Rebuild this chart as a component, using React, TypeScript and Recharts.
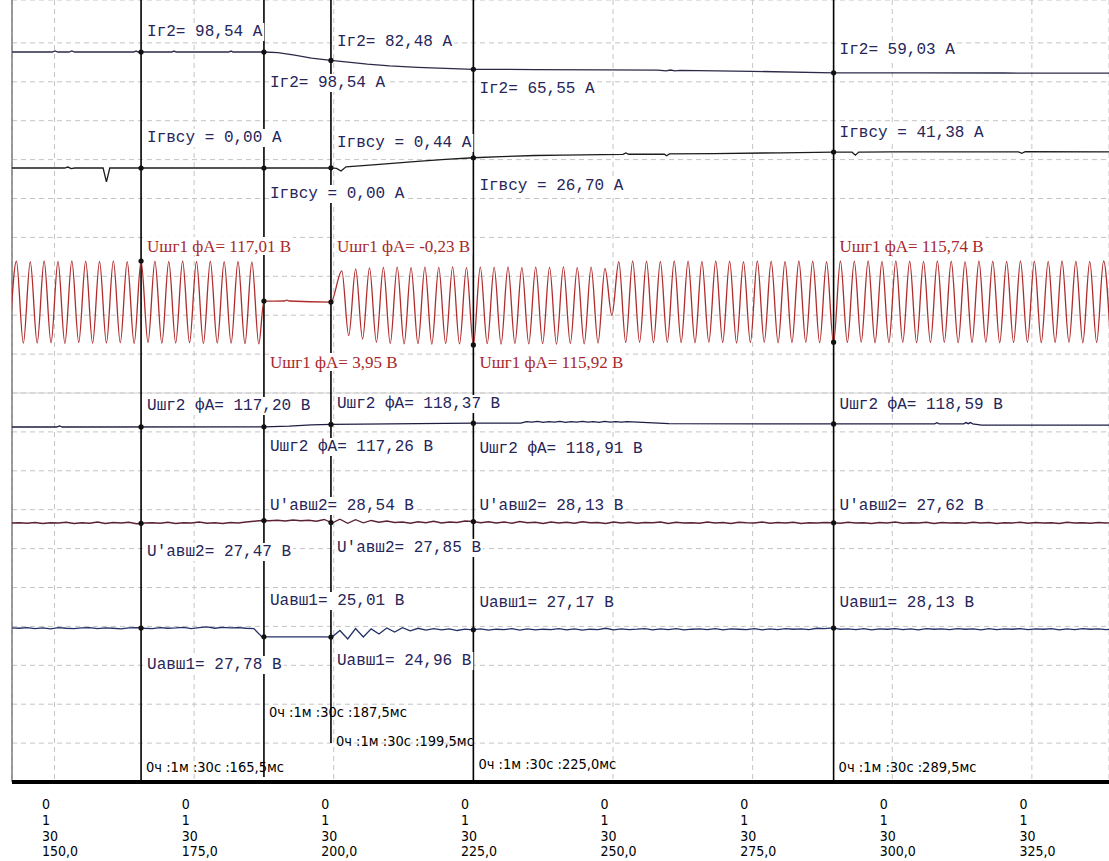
import React from "react";
import { ComposedChart, Line, XAxis, YAxis, CartesianGrid, ReferenceLine, ReferenceDot } from "recharts";

// record time: 0 h 1 min 30 s + milliseconds on the axis
const HOURS = 0;
const MINUTES = 1;
const SECONDS = 30;
const TICK_MS = [150, 175, 200, 225, 250, 275, 300, 325];
const CURSOR_MS = [165.5, 187.5, 199.5, 225.0, 289.5];

// readings printed next to each cursor
const IR2_READ = [98.54, 98.54, 82.48, 65.55, 59.03];
const IRVSU_READ = [0.0, 0.0, 0.44, 26.7, 41.38];
const USHG1_READ = [117.01, 3.95, -0.23, 115.92, 115.74];
const USHG2_READ = [117.2, 117.26, 118.37, 118.91, 118.59];
const UAVSH2P_READ = [27.47, 28.54, 27.85, 28.13, 27.62];
const UAVSH1_READ = [27.78, 25.01, 24.96, 27.17, 28.13];

// Iг2, A
const IR2_T = [142.3, 149.6, 150.1, 150.6, 152.6, 153.1, 153.6, 164.2, 164.6, 165.0, 171.0, 171.4, 171.8, 181.2, 181.6, 182.0, 187.5, 190, 193, 196, 199.5, 203, 206, 210, 215, 220, 225, 236, 248, 258, 259.5, 260.3, 261.1, 262.0, 275, 289.5, 305, 320, 339.5];
const IR2_V = [98.54, 98.54, 100.5, 98.54, 98.54, 100.5, 98.54, 98.54, 100.3, 98.54, 98.54, 100.3, 98.54, 98.54, 100.3, 98.54, 98.54, 97.3, 92.8, 87.0, 82.48, 79.0, 75.5, 72.3, 69.5, 67.3, 65.55, 65.2, 64.6, 64.0, 62.5, 64.3, 62.6, 63.8, 61.8, 59.03, 58.9, 58.6, 58.5];

// Iгвсу, A
const IRVSU_T = [142.3, 151.8, 152.4, 153.0, 153.6, 158.7, 159.3, 159.9, 187.5, 199.5, 200.5, 201.3, 202.2, 204, 207, 211, 215, 220, 225, 230, 236, 241, 248, 251.8, 252.3, 252.8, 259.2, 259.6, 260.1, 268, 280, 289.5, 292.8, 293.4, 294.0, 300, 312, 322.6, 323.2, 323.8, 339.5];
const IRVSU_V = [0, 0, 2.5, -1.5, 0, 0, -36, 0, 0, 0.44, -1, -8, 3, 5, 8, 12.5, 17, 22.5, 26.7, 29.5, 32.5, 33.5, 35, 35.5, 39, 35.8, 36, 32, 36.5, 37.5, 39.5, 41.38, 41.2, 33.5, 41.5, 42, 42, 42, 38, 42.2, 42];

// Uшг1 фА, V instantaneous, one sample per half period
const USHG1_HALF = 1.24;
const USHG1_A_START = 141.94;
const USHG1_A = [-166, 167, -169, 165, -168, 168, -167, 166, -170, 168, -166, 167, -169, 166, -168, 169, -167, 165, -170, 168, -166, 167, -169, 166, -168, 168, -167, 166, -170, 167, -168, 165, -169, 166, -171, 164, -172];
const USHG1_GAP_T = [187.5, 191.2, 191.6, 192.0, 199.5];
const USHG1_GAP_V = [3.95, 4, 8, 4, -0.23];
const USHG1_B_START = 201.44;
const USHG1_B = [128, -138, 136, -152, 140, -165, 142, -170, 143, -172, 141, -171, 143, -173, 142, -170, 144, -172, 141, -176, 143, -171, 142, -173, 144, -170, 141, -172, 143, -171, 142, -173, 144, -170, 141, -172, 143, -168, 138, -55, 165, -166, 168, -165, 167, -167, 166, -165, 168, -166, 167, -167, 166, -165, 168, -166, 167, -168, 165, -166, 168, -165, 167, -167, 166, -166, 168, -165, 167, -167, 165, -170, 168, -166, 167, -165, 168, -167, 166, -166, 168, -165, 167, -167, 166, -166, 168, -165, 167, -167, 165, -166, 168, -165, 167, -167, 166, -166, 168, -165, 167, -167, 166, -166, 168, -165, 167, -167, 166, -166, 168, -165];

// Uшг2 фА, V
const USHG2_T = [142.3, 150.4, 150.9, 151.4, 187.5, 192, 196, 199.5, 205, 215, 225, 233.5, 234.5, 235.5, 236.5, 237.5, 238.5, 239.5, 240.5, 241.5, 242.5, 243.5, 244.5, 245.5, 246.5, 247.5, 248.5, 249.5, 250.5, 251.5, 252.5, 260, 289.5, 307.6, 308.0, 308.4, 312.8, 313.2, 313.6, 314.0, 314.4, 316, 339.5];
const USHG2_V = [117.2, 117.2, 117.7, 117.2, 117.26, 117.6, 118.2, 118.37, 118.5, 118.7, 118.91, 118.9, 119.6, 119.4, 119.7, 119.3, 119.6, 119.4, 119.7, 119.3, 119.6, 119.4, 119.7, 119.4, 119.6, 119.3, 119.7, 119.4, 119.6, 119.4, 119.6, 118.7, 118.59, 118.6, 119.1, 118.6, 118.6, 119.2, 118.7, 119.2, 118.6, 118.0, 118.0];

// U'авш2 and Uавш1, V, sampled every 1.4 ms
const DC_START = 142.3;
const DC_STEP = 1.4;
const UAVSH2P = [
  27.5, 27.6, 27.4, 27.7, 27.3, 27.6, 27.5, 27.8, 27.3, 27.6,
  27.4, 27.9, 27.3, 27.7, 27.5, 27.8, 27.2, 27.5, 27.6, 27.4,
  27.8, 27.3, 27.6, 27.5, 27.9, 27.4, 27.6, 27.3, 27.7, 27.5,
  27.9, 28.2, 28.5, 28.4, 28.6, 28.3, 28.7, 28.4, 28.6, 28.2,
  28.9, 27.5, 29.0, 27.4, 28.8, 27.6, 28.5, 27.8, 28.3, 27.7,
  27.9, 27.4, 28.0, 27.6, 28.2, 27.5, 27.9, 27.7, 28.3, 28.1,
  27.6, 28.0, 27.5, 27.9, 27.4, 28.1, 27.6, 27.8, 27.3, 27.9,
  27.5, 27.8, 27.4, 28.0, 27.6, 27.7, 27.3, 27.9, 27.5, 27.8,
  27.4, 27.7, 27.6, 27.9, 27.3, 27.8, 27.5, 27.6, 27.4, 27.9,
  27.5, 27.7, 27.3, 27.8, 27.6, 27.5, 27.9, 27.4, 27.7, 27.5,
  27.8, 27.3, 27.6, 27.5, 27.7, 27.6, 27.4, 27.8, 27.5, 27.6,
  27.3, 27.7, 27.5, 27.9, 27.4, 27.6, 27.5, 27.8, 27.3, 27.7,
  27.5, 27.6, 27.4, 27.8, 27.5, 27.7, 27.3, 27.6, 27.5, 27.8,
  27.4, 27.7, 27.5, 27.6, 27.3, 27.8, 27.5, 27.6, 27.4, 27.7,
  27.5, 27.6,
];
const UAVSH1 = [
  27.8, 27.7, 27.9, 27.6, 27.8, 27.5, 27.9, 27.7, 27.6, 27.8,
  27.9, 27.6, 27.8, 27.7, 27.5, 27.8, 27.9, 27.7, 27.6, 27.9,
  27.7, 27.8, 28.0, 27.6, 27.9, 28.1, 27.7, 28.0, 27.8, 27.9,
  27.7, 27.6, 25.1, 25.0, 25.0, 25.0, 25.0, 25.0, 25.0, 25.0,
  25.0, 24.96, 27.0, 24.4, 27.6, 25.0, 27.5, 25.9, 27.8, 26.5,
  27.9, 26.9, 27.7, 27.1, 27.6, 27.2, 27.5, 27.0, 27.4, 27.2,
  27.5, 27.1, 27.4, 27.3, 27.6, 27.1, 27.5, 27.2, 27.4, 27.3,
  27.6, 27.2, 27.5, 27.1, 27.4, 27.3, 27.7, 27.2, 27.5, 27.3,
  27.4, 27.6, 27.2, 27.5, 27.3, 27.6, 27.2, 27.4, 27.5, 27.3,
  27.6, 27.2, 27.5, 27.4, 27.3, 27.6, 27.2, 27.5, 27.3, 27.6,
  27.4, 27.5, 27.3, 27.7, 27.6, 27.8, 27.4, 27.5, 27.3, 27.6,
  27.2, 27.5, 27.4, 27.6, 27.3, 27.5, 27.2, 27.6, 27.4, 27.5,
  27.3, 27.6, 27.4, 27.5, 27.2, 27.6, 27.3, 27.5, 27.4, 27.6,
  27.3, 27.5, 27.4, 27.6, 27.2, 27.5, 27.3, 27.6, 27.4, 27.5,
  27.3, 27.4,
];

// ---- layout ----
const W = 1109;
const H = 861;
const PLOT_LEFT = 12;
const PLOT_TOP = 0;
const PLOT_BOTTOM = 782;
const PX_PER_MS = 5.585;
const TICK0_PX = 54.5;
const X_MIN = TICK_MS[0] - (TICK0_PX - PLOT_LEFT) / PX_PER_MS;
const X_MAX = X_MIN + (W - PLOT_LEFT) / PX_PER_MS;
const GRID_PX = 38.9;
const GRID_MAX = (PLOT_BOTTOM - PLOT_TOP) / GRID_PX;
const GRID_ROWS = Array.from({ length: 19 }, (_, i) => i + 1);
const CURSOR_END_PX = [PLOT_BOTTOM, 777, 743, PLOT_BOTTOM, PLOT_BOTTOM];
const TIME_ROW = [767, 712, 741, 764, 767];

const MONO = "'Liberation Mono', 'Courier New', monospace";
const SERIF = "'Liberation Serif', 'Times New Roman', serif";
const NARROW = "'Liberation Sans Narrow', 'Arial Narrow', 'DejaVu Sans Condensed', sans-serif";
const BLUE_TEXT = "#26265a";
const RED_TEXT = "#a8282c";

// hidden axis domain so value v0 sits at pixel row p0 with perPx units per pixel
const span = (v0: number, p0: number, perPx: number) => [
  v0 - (PLOT_BOTTOM - p0) * perPx,
  v0 + (p0 - PLOT_TOP) * perPx,
];

const pairs = (ts: number[], vs: number[]) => ts.map((t, i) => ({ t, v: vs[i] }));
const sampled = (start: number, step: number, vs: number[]) =>
  vs.map((v, i) => ({ t: +(start + i * step).toFixed(3), v }));

const fmt2 = (v: number) => v.toFixed(2).replace(".", ",");
const fmt1 = (v: number) => v.toFixed(1).replace(".", ",");

type Pt = { t: number; v: number };
function valueAt(data: Pt[], t: number) {
  for (let i = 1; i < data.length; i++) {
    const a = data[i - 1];
    const b = data[i];
    if (t >= a.t && t <= b.t) {
      if (b.t === a.t) return b.v;
      return a.v + ((b.v - a.v) * (t - a.t)) / (b.t - a.t);
    }
  }
  return data[data.length - 1].v;
}

let ctx: CanvasRenderingContext2D | null = null;
function textWidth(s: string, font: string) {
  if (!ctx) ctx = document.createElement("canvas").getContext("2d");
  if (!ctx) return s.length * 9.6;
  ctx.font = font;
  return ctx.measureText(s).width;
}

const TRACES = [
  {
    id: "ir2", data: pairs(IR2_T, IR2_V), read: IR2_READ, color: "#2a2a48", curve: "linear",
    label: (v: number) => `Iг2= ${fmt2(v)} А`, textColor: BLUE_TEXT, family: MONO, size: 16,
    rows: [32, 83, 42, 89, 50], domain: span(98.54, 52, 1.9),
  },
  {
    id: "irvsu", data: pairs(IRVSU_T, IRVSU_V), read: IRVSU_READ, color: "#1c1c1c", curve: "linear",
    label: (v: number) => `Iгвсу = ${fmt2(v)} А`, textColor: BLUE_TEXT, family: MONO, size: 16,
    rows: [138, 194, 143, 186, 133], domain: span(0, 168, 2.6),
  },
  {
    id: "ushg1",
    data: [...sampled(USHG1_A_START, USHG1_HALF, USHG1_A), ...pairs(USHG1_GAP_T, USHG1_GAP_V), ...sampled(USHG1_B_START, USHG1_HALF, USHG1_B)],
    read: USHG1_READ, color: "#b02c2c", curve: "monotone",
    label: (v: number) => `Uшг1 фА= ${fmt2(v)} В`, textColor: RED_TEXT, family: SERIF, size: 17,
    rows: [246, 362, 246, 362, 246], domain: span(0, 302, 4.1),
  },
  {
    id: "ushg2", data: pairs(USHG2_T, USHG2_V), read: USHG2_READ, color: "#1e1e44", curve: "linear",
    label: (v: number) => `Uшг2 фА= ${fmt2(v)} В`, textColor: BLUE_TEXT, family: MONO, size: 16,
    rows: [406, 447, 404, 449, 405], domain: span(117.2, 427, 0.45),
  },
  {
    id: "uavsh2p", data: sampled(DC_START, DC_STEP, UAVSH2P), read: UAVSH2P_READ, color: "#5a2232", curve: "linear",
    label: (v: number) => `U'авш2= ${fmt2(v)} В`, textColor: BLUE_TEXT, family: MONO, size: 16,
    rows: [552, 506, 548, 506, 506], domain: span(27.5, 523, 0.4),
  },
  {
    id: "uavsh1", data: sampled(DC_START, DC_STEP, UAVSH1), read: UAVSH1_READ, color: "#243068", curve: "linear",
    label: (v: number) => `Uавш1= ${fmt2(v)} В`, textColor: BLUE_TEXT, family: MONO, size: 16,
    rows: [665, 601, 661, 603, 603], domain: span(27.78, 628, 0.31),
  },
];

function CursorLabel({ cx, row, text, color, family, size }: any) {
  const w = textWidth(text, `${size}px ${family}`);
  return (
    <g>
      <rect x={cx + 5} y={row - 9} width={w + 3} height={18} fill="#fff" />
      <text x={cx + 6} y={row} dominantBaseline="central" fontFamily={family} fontSize={size} fill={color}>
        {text}
      </text>
    </g>
  );
}

function TimeTick({ x, payload }: any) {
  const lines = [String(HOURS), String(MINUTES), String(SECONDS), fmt1(payload.value)];
  return (
    <text fontFamily={NARROW} fontSize={14} fill="#000">
      {lines.map((s, i) => (
        <tspan key={i} x={x - 12.5} y={PLOT_BOTTOM + 27 + i * 15.8}>
          {s}
        </tspan>
      ))}
    </text>
  );
}

export default function App() {
  return (
    <div style={{ position: "absolute", left: 0, top: 0, width: W, height: H, background: "#fff" }}>
      <ComposedChart width={W} height={H} margin={{ top: PLOT_TOP, right: 0, bottom: 0, left: PLOT_LEFT }}>
        <CartesianGrid stroke="#c4c4c4" strokeDasharray="5 4" />
        <XAxis
          type="number"
          dataKey="t"
          domain={[X_MIN, X_MAX]}
          allowDataOverflow
          ticks={TICK_MS}
          interval={0}
          tick={(p: any) => <TimeTick {...p} />}
          tickLine={false}
          axisLine={{ stroke: "#000", strokeWidth: 4 }}
          height={H - PLOT_BOTTOM}
        />
        <YAxis hide type="number" domain={[0, GRID_MAX]} ticks={GRID_ROWS} allowDataOverflow />
        {TRACES.map((tr) => (
          <YAxis key={tr.id} yAxisId={tr.id} hide type="number" domain={tr.domain} allowDataOverflow />
        ))}

        <ReferenceLine y={10} stroke="#cfcfcf" />
        <ReferenceLine x={X_MIN} stroke="#7d7d7d" strokeWidth={1.5} ifOverflow="visible" />

        {CURSOR_MS.map((t, i) => (
          <ReferenceLine
            key={`cur-${i}`}
            segment={[
              { x: t, y: (PLOT_BOTTOM - CURSOR_END_PX[i]) / GRID_PX },
              { x: t, y: GRID_MAX },
            ]}
            stroke="#000"
            strokeWidth={1.6}
            ifOverflow="visible"
          />
        ))}

        {TRACES.map((tr) => (
          <Line
            key={tr.id}
            yAxisId={tr.id}
            data={tr.data}
            dataKey="v"
            type={tr.curve as any}
            stroke={tr.color}
            strokeWidth={1.3}
            dot={false}
            activeDot={false}
            isAnimationActive={false}
          />
        ))}

        {TRACES.flatMap((tr) =>
          CURSOR_MS.map((t, ci) => (
            <ReferenceDot
              key={`dot-${tr.id}-${ci}`}
              yAxisId={tr.id}
              x={t}
              y={valueAt(tr.data, t)}
              r={2.6}
              fill="#111"
              stroke="none"
            />
          ))
        )}

        {TRACES.flatMap((tr) =>
          CURSOR_MS.map((t, ci) => (
            <ReferenceDot
              key={`lab-${tr.id}-${ci}`}
              x={t}
              y={1}
              r={0}
              ifOverflow="visible"
              shape={(p: any) => (
                <CursorLabel
                  cx={p.cx}
                  row={tr.rows[ci]}
                  text={tr.label(tr.read[ci])}
                  color={tr.textColor}
                  family={tr.family}
                  size={tr.size}
                />
              )}
            />
          ))
        )}

        {CURSOR_MS.map((t, ci) => (
          <ReferenceDot
            key={`time-${ci}`}
            x={t}
            y={1}
            r={0}
            ifOverflow="visible"
            shape={(p: any) => (
              <text x={p.cx + 5} y={TIME_ROW[ci]} dominantBaseline="central" fontFamily={NARROW} fontSize={14.5} fill="#000">
                {`${HOURS}ч :${MINUTES}м :${SECONDS}с :${fmt1(t)}мс`}
              </text>
            )}
          />
        ))}
      </ComposedChart>
    </div>
  );
}
